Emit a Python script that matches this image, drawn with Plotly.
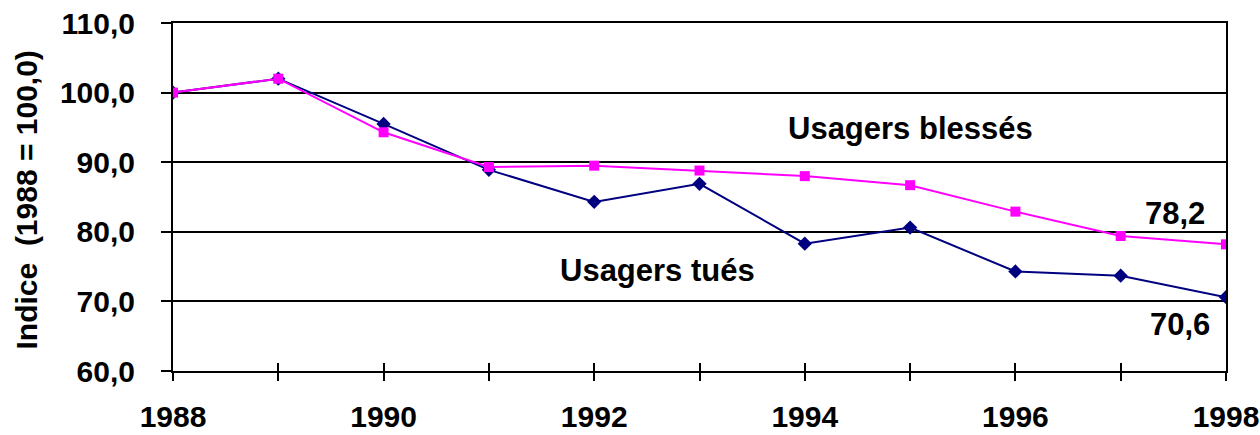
import plotly.graph_objects as go

# ------------------------------
# DATA
# ------------------------------
years = [1988, 1989, 1990, 1991, 1992, 1993, 1994, 1995, 1996, 1997, 1998]
tues = [100.0, 102.0, 95.5, 88.9, 84.3, 86.9, 78.3, 80.6, 74.3, 73.7, 70.6]
blesses = [100.0, 102.0, 94.3, 89.3, 89.5, 88.8, 88.0, 86.7, 82.9, 79.4, 78.2]

y_ticks = [60, 70, 80, 90, 100, 110]
y_labels = ["60,0", "70,0", "80,0", "90,0", "100,0", "110,0"]
x_labels = ["1988", "", "1990", "", "1992", "", "1994", "", "1996", "", "1998"]

NAVY = "#000080"
MAGENTA = "#FF00FF"
FONT = "Liberation Sans, Arial, sans-serif"

fig = go.Figure()

fig.add_trace(go.Scatter(
    x=years, y=tues, mode="lines+markers", name="Usagers tués",
    line=dict(color=NAVY, width=2),
    marker=dict(symbol="diamond", size=11, color=NAVY),
))
fig.add_trace(go.Scatter(
    x=years, y=blesses, mode="lines+markers", name="Usagers blessés",
    line=dict(color=MAGENTA, width=2),
    marker=dict(symbol="square", size=10, color=MAGENTA),
))

# invisible trace on a second x axis so the inside half of the x ticks gets drawn
fig.add_trace(go.Scatter(x=[years[0]], y=[y_ticks[0]], xaxis="x2", mode="markers",
                         marker=dict(opacity=0), showlegend=False, hoverinfo="skip"))

# labels inside the chart
ann_font = dict(size=31, color="black", family=FONT)
fig.add_annotation(x=1995.0, y=94.8, text="<b>Usagers blessés</b>", showarrow=False, font=ann_font)
fig.add_annotation(x=1992.6, y=74.4, text="<b>Usagers tués</b>", showarrow=False, font=ann_font)
fig.add_annotation(x=1997.52, y=82.7, text="<b>78,2</b>", showarrow=False, font=ann_font)
fig.add_annotation(x=1997.56, y=66.7, text="<b>70,6</b>", showarrow=False, font=ann_font)

# y axis title, placed by hand so it sits near the left edge like the original
fig.add_annotation(x=0, y=0.49, xref="paper", yref="paper", xshift=-147,
                   text="<b>Indice  (1988 = 100,0)</b>", textangle=-90, showarrow=False,
                   xanchor="center", yanchor="middle",
                   font=dict(size=30, color="black", family=FONT))

fig.update_layout(
    width=1260, height=435,
    margin=dict(l=173, r=34, t=23, b=64),
    paper_bgcolor="white", plot_bgcolor="white",
    showlegend=False,
    font=dict(family=FONT, color="black"),
    xaxis=dict(
        range=[1988, 1998], tickvals=years, ticktext=["<b>%s</b>" % t if t else "" for t in x_labels],
        ticks="outside", ticklen=8, tickwidth=2, tickcolor="black",
        showline=True, linecolor="black", linewidth=2, mirror=True,
        showgrid=False, zeroline=False, automargin=False, ticklabeloverflow="allow",
        tickfont=dict(size=30, family=FONT), ticklabelstandoff=10,
    ),
    xaxis2=dict(
        range=[1988, 1998], overlaying="x", tickvals=years, showticklabels=False,
        ticks="inside", ticklen=8, tickwidth=2, tickcolor="black",
        showgrid=False, zeroline=False, showline=False, automargin=False,
    ),
    yaxis=dict(
        range=[60, 110], tickvals=y_ticks, ticktext=["<b>%s</b>" % t for t in y_labels],
        ticks="outside", ticklen=10, tickwidth=2, tickcolor="black",
        showgrid=True, gridcolor="black", gridwidth=2,
        showline=True, linecolor="black", linewidth=2, mirror=True,
        zeroline=False, automargin=False, ticklabeloverflow="allow",
        tickfont=dict(size=30, family=FONT), ticklabelstandoff=20,
    ),
)

# drop the default 8px body margin so the figure fills the window
fig.write_html("out.html", config={"displayModeBar": False},
               post_script="document.body.style.margin='0';")
